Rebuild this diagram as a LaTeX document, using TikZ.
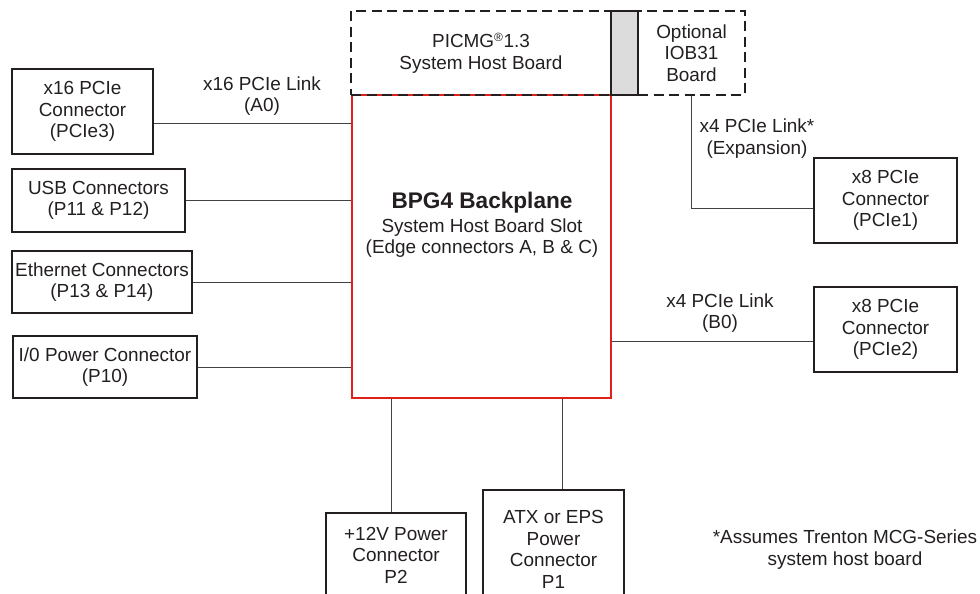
\documentclass[tikz,border=0pt]{standalone}
\usepackage{fontspec}
\setmainfont{Liberation Sans}
\usetikzlibrary{positioning}

\definecolor{inkgray}{HTML}{231F20}
\definecolor{bpred}{HTML}{E0201B}
\definecolor{slotgray}{HTML}{DCDCDC}

\tikzset{
  box/.style={draw=inkgray, line width=2bp, align=center, inner sep=0pt, text=inkgray},
  dashbox/.style={draw=inkgray, line width=2.4bp, dash pattern=on 10bp off 5.5bp, align=center, inner sep=0pt, text=inkgray},
  link/.style={draw=inkgray!85, line width=0.9bp},
  lbl/.style={align=center, inner sep=0pt, text=inkgray},
}

\begin{document}
\begin{tikzpicture}[x=1bp, y=-1bp, every node/.style={font=\fontsize{19}{21.5}\selectfont}]
    \clip (0,0) rectangle (980,594);

    % backplane and host board slot
    \node (bp) at (481.5,246.5) [box, draw=bpred, minimum width=259bp, minimum height=303bp] {};
    \node (bptitle) at (482,203) [lbl, font=\fontsize{22.7}{24}\selectfont\bfseries] {BPG4 Backplane};
    \node (bpslot) at (482,238) [lbl, font=\fontsize{19}{21}\selectfont] {System Host Board Slot\\(Edge connectors A, B \& C)};

    \node (host)  at (481,53)    [dashbox, minimum width=260bp, minimum height=84bp] {PICMG\textsuperscript{\fontsize{12}{12}\selectfont\textregistered}1.3\\System Host Board};
    \node (iob)   at (691.5,53)  [dashbox, minimum width=107bp, minimum height=84bp] {Optional\\IOB31\\Board};
    \node (strip) at (624.5,53)  [box, fill=slotgray, line width=2.4bp, minimum width=27bp, minimum height=84bp] {};

    % left side connectors
    \node (pcie3) at (82.5,111.5) [box, minimum width=141bp, minimum height=85bp] {x16 PCIe\\Connector\\(PCIe3)};
    \node (usb)   at (98.5,200.5) [box, minimum width=173bp, minimum height=63bp] {USB Connectors\\(P11 \& P12)};
    \node (eth)   at (102,282)    [box, minimum width=180bp, minimum height=62bp] {Ethernet Connectors\\(P13 \& P14)};
    \node (io)    at (105,367)    [box, minimum width=184bp, minimum height=62bp] {I/0 Power Connector\\(P10)};

    % right side connectors
    \node (pcie1) at (885.5,200.5) [box, minimum width=143bp, minimum height=85bp] {x8 PCIe\\Connector\\(PCIe1)};
    \node (pcie2) at (885.5,329.5) [box, minimum width=143bp, minimum height=85bp] {x8 PCIe\\Connector\\(PCIe2)};

    % power connectors
    \node (p2) at (396,555)     [box, minimum width=140bp, minimum height=84bp] {+12V Power\\Connector\\P2};
    \node (p1) at (553.5,549.5) [box, minimum width=141bp, minimum height=119bp] {ATX or EPS\\Power\\Connector\\P1};

    % links
    \draw[link] ([yshift=-11.5bp]pcie3.east) -- ([yshift=-11.5bp]pcie3.east -| bp.west);
    \draw[link] (usb.east) -- (usb.east -| bp.west);
    \draw[link] (eth.east) -- (eth.east -| bp.west);
    \draw[link] (io.east) -- (io.east -| bp.west);
    \draw[link] ([yshift=-11.5bp]pcie2.west) -- ([yshift=-11.5bp]pcie2.west -| bp.east);
    \draw[link] (iob.south) |- ([yshift=-7.5bp]pcie1.west);
    \draw[link] ([xshift=-5bp]p2.north) -- ([xshift=-5bp]p2.north |- bp.south);
    \draw[link] ([xshift=8.5bp]p1.north) -- ([xshift=8.5bp]p1.north |- bp.south);

    \node (a0lbl)  at (262,96)    [lbl] {x16 PCIe Link\\(A0)};
    \node (explbl) at (757,138.5) [lbl] {x4 PCIe Link*\\(Expansion)};
    \node (b0lbl)  at (720,313)   [lbl] {x4 PCIe Link\\(B0)};

    \node (note) at (845,549.5) [lbl] {*Assumes Trenton MCG-Series\\system host board};
  \end{tikzpicture}
\end{document}
